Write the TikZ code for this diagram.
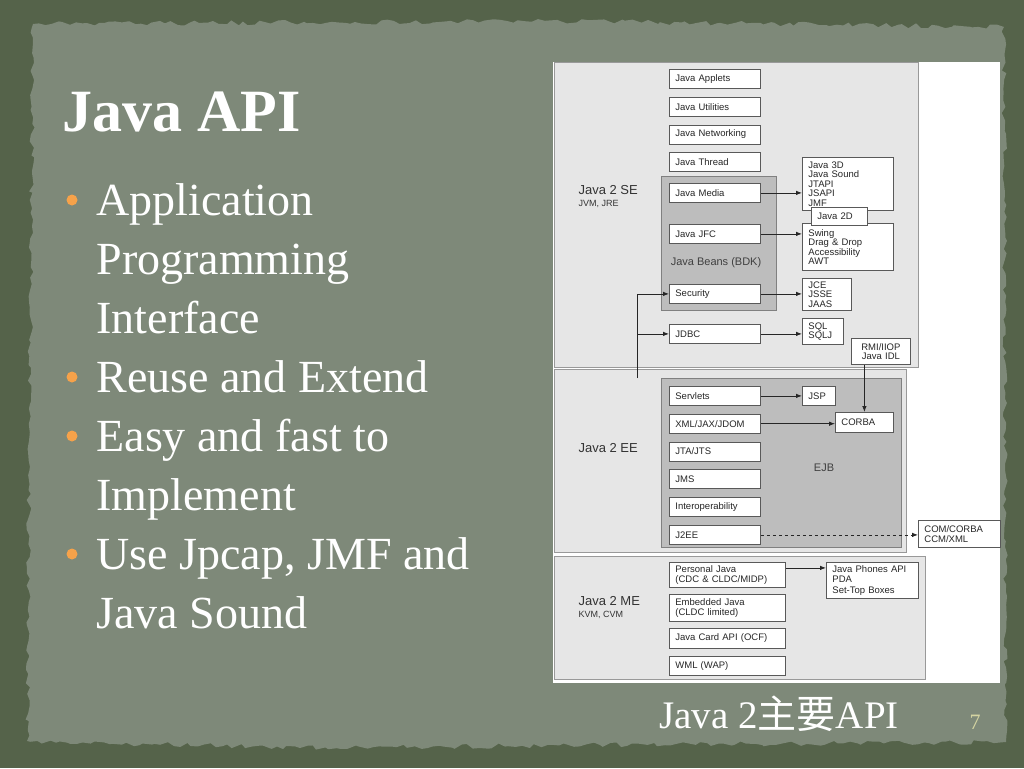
\documentclass[tikz,border=0pt]{standalone}
\usepackage{fontspec}
\setmainfont{Liberation Serif}
\newfontfamily\diagfont{Liberation Sans}
\newfontfamily\cjkfont{Noto Sans CJK SC}
\usepackage{xcolor}
\usepackage{tikz}
\usetikzlibrary{arrows.meta, positioning, decorations.pathmorphing}

\definecolor{mossdark}{HTML}{55634A}
\definecolor{mosslight}{HTML}{7E8979}
\definecolor{bulletorange}{HTML}{F6A24A}
\definecolor{panelgray}{HTML}{E6E6E6}
\definecolor{beangray}{HTML}{BDBDBD}
\definecolor{pagenum}{HTML}{D4D4A2}

\begin{document}
\begin{tikzpicture}[
    x=1pt, y=-1pt,
    node distance=8pt,
    apibox/.style={draw=black!65, line width=0.8pt, fill=white, anchor=north west, minimum width=91pt, minimum height=19pt, inner xsep=6pt, inner ysep=1pt, text width=79pt, align=left, text=black!85, font=\diagfont\fontsize{9.5}{10.5}\selectfont},
    widebox/.style={apibox, minimum width=116pt, text width=104pt},
    listbox/.style={draw=black!65, line width=0.8pt, fill=white, anchor=north west, minimum width=91pt, text width=79pt, inner xsep=6pt, inner ysep=1pt, align=left, text=black!85, font=\diagfont\fontsize{9.5}{9.5}\selectfont},
    panel/.style={draw=black!40, line width=0.8pt, fill=panelgray},
    beanpanel/.style={draw=black!50, line width=0.8pt, fill=beangray},
    tierlabel/.style={anchor=west, align=left, text=black!80, font=\diagfont\fontsize{13}{12}\selectfont},
    arrow/.style={line width=0.8pt, black!85, ->, >={Latex[length=6pt,width=4.5pt]}},
    bullettext/.style={anchor=base west, align=left, text=white, font=\fontsize{46}{59}\selectfont}
]
\useasboundingbox (0,0) rectangle (1024,768);
\fill[mossdark] (0,0) rectangle (1024,768);
\pgfmathsetseed{7}
\path[fill=mosslight, decorate, decoration={random steps, segment length=6pt, amplitude=2.5pt}]
  (33,24) -- (560,21) -- (1004,27) -- (1006,742) -- (600,745) -- (300,748) -- (27,741) -- cycle;

\node (title) [anchor=base west, text=white, font=\bfseries\fontsize{60}{60}\selectfont] at (59,131) {Java API};
\foreach \y in {200,377,436,554}
  \fill[bulletorange] (72,\y) circle (5.5pt);
\node (apitext) [bullettext] at (93,333) {Application\\Programming\\Interface};
\node (reusetext) [bullettext] at (93,392) {Reuse and Extend};
\node (easytext) [bullettext] at (93,510) {Easy and fast to\\Implement};
\node (usetext) [bullettext] at (93,628) {Use Jpcap, JMF and\\Java Sound};

\fill[white] (553,62) rectangle (1000,683);
\draw[panel] (554,62) rectangle (918,367);
\draw[beanpanel] (661,176) rectangle (776,310);
\draw[panel] (554,369) rectangle (906,552);
\draw[beanpanel] (661,378) rectangle (901,547);
\draw[panel] (554,556) rectangle (925,679);

\node (se) [tierlabel] at (575,197) {Java 2 SE\\{\fontsize{9}{9}\selectfont JVM, JRE}};
\node (ee) [tierlabel] at (575,448) {Java 2 EE};
\node (me) [tierlabel] at (575,608) {Java 2 ME\\{\fontsize{9}{9}\selectfont KVM, CVM}};
\node (beans) [text=black!75, font=\diagfont\fontsize{11}{11}\selectfont] at (716,263) {Java Beans (BDK)};
\node (ejb) [text=black!75, font=\diagfont\fontsize{11}{11}\selectfont] at (824,468) {EJB};

\node (applets) [apibox] at (669,69) {Java Applets};
\node (utilities) [apibox, below=of applets] {Java Utilities};
\node (networking) [apibox, below=of utilities] {Java Networking};
\node (thread) [apibox, below=of networking] {Java Thread};
\node (media) [apibox] at (669,183) {Java Media};
\node (jfc) [apibox] at (669,224) {Java JFC};
\node (security) [apibox] at (669,284) {Security};
\node (jdbc) [apibox] at (669,324) {JDBC};

\node (j3d) [listbox, minimum height=53pt] at (802,157) {Java 3D\\Java Sound\\JTAPI\\JSAPI\\JMF};
\node (swing) [listbox, minimum height=47pt] at (802,223) {Swing\\Drag \& Drop\\Accessibility\\AWT};
\node (j2d) [listbox, minimum width=56pt, text width=44pt, minimum height=18pt] at (811,207) {Java 2D};
\node (jce) [listbox, minimum width=49pt, text width=37pt, minimum height=32pt] at (802,278) {JCE\\JSSE\\JAAS};
\node (sql) [listbox, minimum width=41pt, text width=29pt, minimum height=26pt] at (802,318) {SQL\\SQLJ};
\node (rmi) [listbox, minimum width=59pt, text width=47pt, minimum height=26pt, align=center] at (851,338) {RMI/IIOP\\Java IDL};

\node (servlets) [apibox] at (669,386) {Servlets};
\node (xml) [apibox, below=of servlets] {XML/JAX/JDOM};
\node (jta) [apibox, below=of xml] {JTA/JTS};
\node (jms) [apibox, below=of jta] {JMS};
\node (interop) [apibox, below=of jms] {Interoperability};
\node (j2ee) [apibox, below=of interop] {J2EE};
\node (jsp) [apibox, minimum width=33pt, text width=21pt] at (802,386) {JSP};
\node (corba) [apibox, minimum width=58pt, text width=46pt, minimum height=20pt] at (835,412) {CORBA};
\node (com) [listbox, minimum width=82pt, text width=70pt, minimum height=27pt] at (918,520) {COM/CORBA\\CCM/XML};

\node (personal) [widebox, minimum height=25pt] at (669,562) {Personal Java\\(CDC \& CLDC/MIDP)};
\node (embedded) [widebox, minimum height=27pt] at (669,594) {Embedded Java\\(CLDC limited)};
\node (card) [widebox, minimum height=20pt] at (669,628) {Java Card API (OCF)};
\node (wml) [widebox] at (669,656) {WML (WAP)};
\node (phones) [listbox, minimum width=92pt, text width=80pt, inner ysep=3pt, font=\diagfont\fontsize{9.5}{10.5}\selectfont] at (826,562) {Java Phones API\\PDA\\Set-Top Boxes};

\foreach \a/\b in {media/j3d, jfc/swing, security/jce, jdbc/sql, servlets/jsp, xml/corba}
  \draw[arrow] (\a.east) -- (\a.east -| \b.west);
\draw[arrow, dashed] (j2ee.east) -- (j2ee.east -| com.west);
\draw[arrow] (corba.north |- rmi.south) -- (corba.north);
\coordinate (feed) at (637,378);
\draw[arrow] (feed) |- (security.west);
\draw[arrow] (feed |- jdbc.west) -- (jdbc.west);
\draw[arrow] ([yshift=7pt]personal.east) -- ([yshift=7pt]personal.east -| phones.west);

\node (caption) [anchor=base, text=white, font=\fontsize{39}{39}\selectfont] at (779,728) {Java 2{\cjkfont 主要}API};
\node (pagenum) [anchor=base, text=pagenum, font=\fontsize{22}{22}\selectfont] at (975,729) {7};
\end{tikzpicture}
\end{document}
